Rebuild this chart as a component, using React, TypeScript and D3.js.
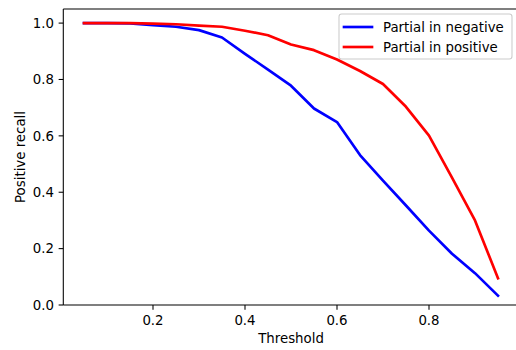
import React from "react";
import * as d3 from "d3";

const thresholds = [0.05, 0.1, 0.15, 0.2, 0.25, 0.3, 0.35, 0.4, 0.45, 0.5, 0.55, 0.6, 0.65, 0.7, 0.75, 0.8, 0.85, 0.9, 0.95];
const partialInNegative = [1.0, 1.0, 0.999, 0.993, 0.987, 0.975, 0.949, 0.891, 0.835, 0.778, 0.697, 0.649, 0.532, 0.441, 0.353, 0.264, 0.182, 0.113, 0.033];
const partialInPositive = [1.0, 1.0, 1.0, 0.998, 0.996, 0.991, 0.987, 0.973, 0.957, 0.924, 0.904, 0.871, 0.83, 0.784, 0.703, 0.601, 0.452, 0.3, 0.095];
const xTicks = [0.2, 0.4, 0.6, 0.8];
const yTicks = [0.0, 0.2, 0.4, 0.6, 0.8, 1.0];
const seriesNames = ["Partial in negative", "Partial in positive"];
const seriesColors = ["#0000ff", "#ff0000"];

const W = 516;
const H = 350;
const FONT = "'DejaVu Sans', sans-serif";
const FS = 13.33;

export default function App() {
  const x = d3.scaleLinear().domain([0.005, 0.995]).range([63.3, 518.7]);
  const y = d3.scaleLinear().domain([0, 1.05]).range([305, 9]);
  const line = d3
    .line<number>()
    .x((_, i) => x(thresholds[i]))
    .y((d) => y(d));
  const series = [partialInNegative, partialInPositive];
  const [x0, x1] = x.range();
  const [yb, yt] = y.range();
  const tickLen = 4.67;
  const sw = 1.07;

  const legX = 339;
  const legY = 14;
  const legW = 173;
  const legH = 45;

  return (
    <svg
      width={W}
      height={H}
      style={{ position: "fixed", left: 0, top: 0, background: "#fff" }}
      fontFamily={FONT}
    >
      <rect x={0} y={0} width={W} height={H} fill="#fff" />
      {series.map((s, i) => (
        <path
          key={i}
          d={line(s) || ""}
          fill="none"
          stroke={seriesColors[i]}
          strokeWidth={2.67}
          strokeLinejoin="round"
          strokeLinecap="square"
        />
      ))}
      {/* spines */}
      <line x1={x0} x2={x0} y1={yb} y2={yt} stroke="#000" strokeWidth={sw} />
      <line x1={x1} x2={x1} y1={yb} y2={yt} stroke="#000" strokeWidth={sw} />
      <line x1={x0} x2={x1} y1={yb} y2={yb} stroke="#000" strokeWidth={sw} />
      <line x1={x0} x2={x1} y1={yt} y2={yt} stroke="#000" strokeWidth={sw} />
      {/* x ticks */}
      {xTicks.map((t) => (
        <g key={"x" + t}>
          <line x1={x(t)} x2={x(t)} y1={yb} y2={yb + tickLen} stroke="#000" strokeWidth={sw} />
          <text x={x(t)} y={324.5} textAnchor="middle" fontSize={FS} fill="#000">
            {t.toFixed(1)}
          </text>
        </g>
      ))}
      {/* y ticks */}
      {yTicks.map((t) => (
        <g key={"y" + t}>
          <line x1={x0} x2={x0 - tickLen} y1={y(t)} y2={y(t)} stroke="#000" strokeWidth={sw} />
          <text x={x0 - tickLen - 4.67} y={y(t) + 4.8} textAnchor="end" fontSize={FS} fill="#000">
            {t.toFixed(1)}
          </text>
        </g>
      ))}
      <text x={(x0 + x1) / 2} y={343} textAnchor="middle" fontSize={FS} fill="#000">
        Threshold
      </text>
      <text
        transform={`translate(25, ${(yb + yt) / 2}) rotate(-90)`}
        textAnchor="middle"
        fontSize={FS}
        fill="#000"
      >
        Positive recall
      </text>
      {/* legend */}
      <rect
        x={legX}
        y={legY}
        width={legW}
        height={legH}
        rx={2.7}
        fill="#fff"
        fillOpacity={0.8}
        stroke="#cccccc"
        strokeWidth={sw}
      />
      {seriesNames.map((n, i) => (
        <g key={n}>
          <line
            x1={legX + 5}
            x2={legX + 33}
            y1={27 + i * 20}
            y2={27 + i * 20}
            stroke={seriesColors[i]}
            strokeWidth={2.67}
            strokeLinecap="square"
          />
          <text x={383} y={31.8 + i * 20} fontSize={FS} fill="#000">
            {n}
          </text>
        </g>
      ))}
    </svg>
  );
}
